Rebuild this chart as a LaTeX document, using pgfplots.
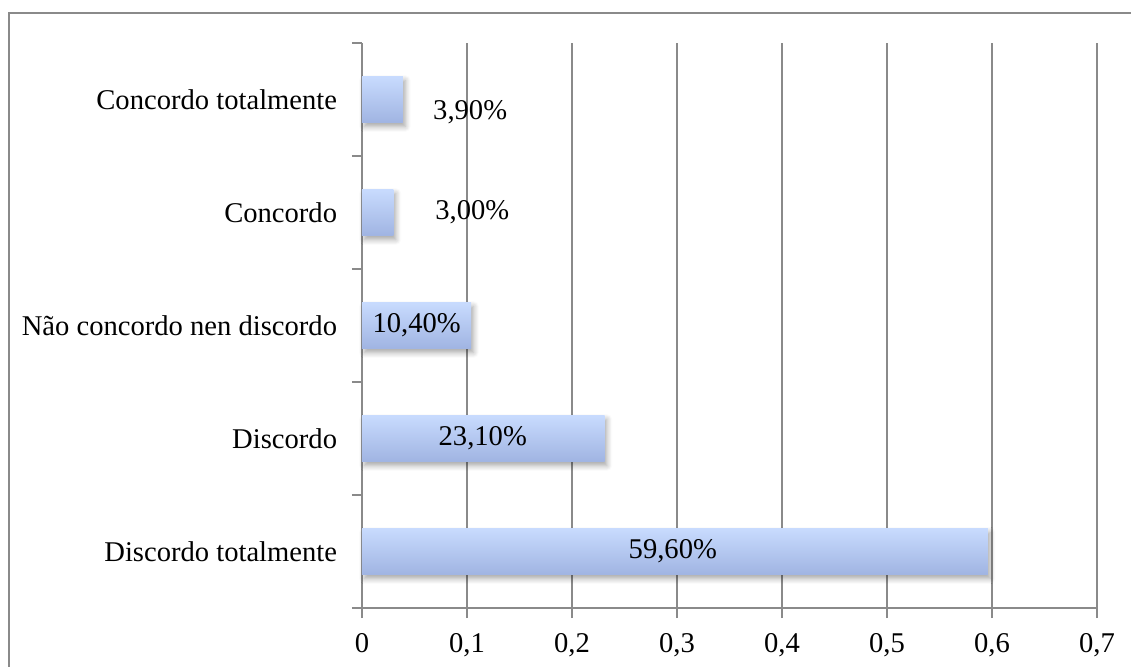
\documentclass[border=0pt]{standalone}
\usepackage{pgfplots}
\pgfplotsset{compat=1.18}
\usepackage{fontspec}
\setmainfont{Liberation Serif}
\usetikzlibrary{shadows.blur}

\definecolor{barTop}{RGB}{200,219,254}
\definecolor{barBottom}{RGB}{160,180,226}
\definecolor{lineGray}{RGB}{138,138,138}

\pgfplotsset{
  shadedbar/.style={xbar, bar width=0.41, bar shift=0pt, draw=none,
    top color=barTop, bottom color=barBottom,
    blur shadow={shadow xshift=1.2pt, shadow yshift=-2pt, shadow opacity=35,
      shadow blur steps=6, shadow blur extra rounding=0pt}},
}

\begin{document}
\fontsize{14.3pt}{17pt}\selectfont
\begin{tikzpicture}
\useasboundingbox (0,0) rectangle (565.5pt,333pt);
% frame around the chart area
\draw[lineGray, line width=0.9pt] (4.5pt,-2pt) -- (4.5pt,326.5pt) -- (567pt,326.5pt);
\begin{axis}[
  at={(181pt,29pt)}, anchor=south west,
  scale only axis, width=367.5pt, height=282.5pt,
  xmin=0, xmax=0.7, ymin=-0.5, ymax=4.5,
  axis lines=left, axis line style={lineGray, line width=1pt, -},
  xtick={0,0.1,...,0.7},
  /pgf/number format/.cd, use comma, fixed, assume math mode=true, /pgfplots/.cd,
  xmajorgrids, grid style={lineGray, line width=1pt},
  tick align=outside, major tick length=5pt,
  xtick style={draw=lineGray, line width=1pt},
  xticklabel style={yshift=-3pt},
  ytick={0,1,2,3,4},
  yticklabels={Discordo totalmente, Discordo, Não concordo nen discordo, Concordo, Concordo totalmente},
  ytick style={draw=none},
  yticklabel style={xshift=-2.5pt},
  extra y ticks={-0.5,0.5,1.5,2.5,3.5,4.5},
  extra y tick labels={},
  extra y tick style={ytick style={draw=lineGray, line width=1pt}, grid=none},
  clip=false,
]
% one plot per bar so that each bar carries its own gradient
\addplot[shadedbar] coordinates {(0.596,0)};
\addplot[shadedbar] coordinates {(0.231,1)};
\addplot[shadedbar] coordinates {(0.104,2)};
\addplot[shadedbar] coordinates {(0.030,3)};
\addplot[shadedbar] coordinates {(0.039,4)};
\node at (axis cs:0.296,0) {59,60\%};
\node at (axis cs:0.115,1) {23,10\%};
\node at (axis cs:0.052,2) {10,40\%};
\node at (axis cs:0.105,3) {3,00\%};
\node at (axis cs:0.103,3.89) {3,90\%};
\end{axis}
\end{tikzpicture}
\end{document}
